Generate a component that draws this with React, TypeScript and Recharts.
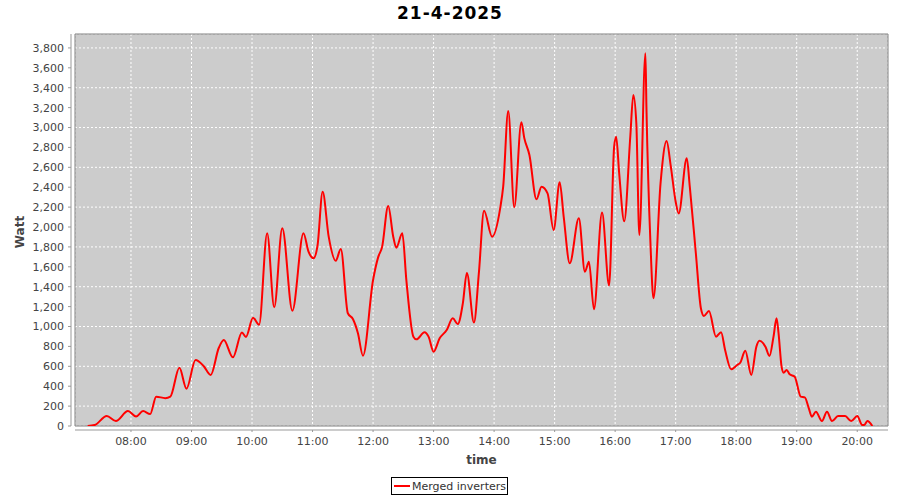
import React from 'react'
import { LineChart, Line, XAxis, YAxis, CartesianGrid, ReferenceArea, Legend } from 'recharts'

const times = [
  '07:17', '07:24', '07:36', '07:45', '07:57', '08:05', '08:12', '08:19', '08:25', '08:34',
  '08:39', '08:48', '08:55', '09:04', '09:12', '09:19', '09:27', '09:32', '09:41', '09:50',
  '09:54', '10:01', '10:07', '10:15', '10:22', '10:30', '10:40', '10:51', '10:56', '11:01',
  '11:05', '11:10', '11:16', '11:23', '11:28', '11:35', '11:40', '11:45', '11:50', '12:00',
  '12:05', '12:09', '12:15', '12:20', '12:23', '12:29', '12:33', '12:40', '12:43', '12:51',
  '12:55', '13:00', '13:06', '13:13', '13:19', '13:24', '13:29', '13:33', '13:40', '13:45',
  '13:50', '13:58', '14:06', '14:09', '14:14', '14:20', '14:27', '14:30', '14:35', '14:42',
  '14:47', '14:53', '14:59', '15:05', '15:09', '15:15', '15:24', '15:30', '15:34', '15:39',
  '15:47', '15:54', '15:59', '16:01', '16:04', '16:09', '16:15', '16:18', '16:21', '16:24',
  '16:30', '16:31', '16:35', '16:38', '16:45', '16:51', '16:55', '17:00', '17:03', '17:11',
  '17:14', '17:20', '17:25', '17:28', '17:33', '17:40', '17:45', '17:49', '17:55', '18:01',
  '18:04', '18:09', '18:15', '18:20', '18:23', '18:29', '18:33', '18:37', '18:40', '18:42',
  '18:45', '18:47', '18:50', '18:53', '18:58', '19:04', '19:08', '19:12', '19:15', '19:19',
  '19:25', '19:30', '19:35', '19:41', '19:48', '19:54', '20:00', '20:05', '20:07', '20:10',
  '20:15',
]

const watts = [
  0, 10, 100, 50, 150, 95, 150, 120, 295, 280,
  295, 585, 375, 663, 603, 513, 784, 864, 690, 940,
  895, 1088, 1018, 1937, 1193, 1987, 1159, 1937, 1752, 1686,
  1819, 2355, 1903, 1661, 1779, 1133, 1075, 932, 707, 1467,
  1695, 1802, 2211, 1903, 1792, 1937, 1467, 898, 871, 942,
  898, 747, 881, 965, 1082, 1025, 1233, 1538, 1040, 1551,
  2164, 1903, 2188, 2405, 3166, 2198, 3052, 2891, 2724, 2278,
  2405, 2338, 1970, 2449, 2103, 1635, 2087, 1551, 1651, 1173,
  2145, 1412, 2807, 2907, 2540, 2057, 2907, 3327, 3042, 1920,
  3746, 3209, 1836, 1283, 2439, 2864, 2623, 2254, 2137, 2690,
  2405, 1736, 1183, 1106, 1156, 898, 942, 764, 570, 613,
  636, 757, 513, 797, 857, 797, 704, 898, 1082, 932,
  596, 536, 563, 520, 496, 295, 288, 178, 94, 144,
  50, 144, 50, 100, 100, 50, 100, 10, 10, 50,
  0,
]

const hourTicks = ['08:00', '09:00', '10:00', '11:00', '12:00', '13:00', '14:00', '15:00', '16:00', '17:00', '18:00', '19:00', '20:00']
const wattTicks = [0, 200, 400, 600, 800, 1000, 1200, 1400, 1600, 1800, 2000, 2200, 2400, 2600, 2800, 3000, 3200, 3400, 3600, 3800]

const toMinutes = (s: string) => {
  const [h, m] = s.split(':').map(Number)
  return h * 60 + m
}

const fmtTime = (v: number) => {
  const h = Math.floor(v / 60)
  const m = Math.round(v - h * 60)
  return `${String(h).padStart(2, '0')}:${String(m).padStart(2, '0')}`
}

const fmtWatt = (v: number) => v.toLocaleString('en-US')

const data = times.map((t, i) => ({ t: toMinutes(t), watt: watts[i] }))

const xDomain = [424.5, 1230.5]
const yMax = 3940
const font = '"DejaVu Sans", Verdana, sans-serif'

const LegendBox = () => (
  <div
    style={{
      border: '1px solid #000',
      height: 16,
      width: 115,
      display: 'flex',
      alignItems: 'center',
      fontFamily: font,
      fontSize: 11,
      color: '#333',
      background: '#fff',
    }}
  >
    <span style={{ display: 'inline-block', width: 16, height: 2, background: '#ff0000', marginLeft: 2, marginRight: 2 }} />
    <span>Merged inverters</span>
  </div>
)

export default function App() {
  return (
    <div style={{ position: 'relative', width: 900, height: 500, background: '#fff' }}>
      <style>{'body{margin:0}'}</style>
      <div
        style={{
          position: 'absolute',
          top: 0,
          left: 0,
          width: 900,
          textAlign: 'center',
          fontFamily: font,
          fontWeight: 'bold',
          fontSize: 17,
          letterSpacing: 1,
          lineHeight: '26px',
          color: '#000',
        }}
      >
        21-4-2025
      </div>
      <LineChart width={900} height={500} data={data} margin={{ top: 34, right: 12, left: 0, bottom: 44 }}>
        <CartesianGrid fill="#cccccc" stroke="#ffffff" strokeDasharray="2 2" />
        <ReferenceArea x1={xDomain[0]} x2={xDomain[1]} y1={0} y2={yMax} fill="none" stroke="#808080" strokeWidth={1} />
        <XAxis
          dataKey="t"
          type="number"
          domain={xDomain}
          ticks={hourTicks.map(toMinutes)}
          tickFormatter={fmtTime}
          allowDataOverflow
          height={30}
          tickSize={2}
          tickMargin={9}
          axisLine={{ stroke: '#999', transform: 'translate(0,4)' }}
          tickLine={{ stroke: '#999', transform: 'translate(0,4)' }}
          tick={{ fill: '#444', fontSize: 11, fontFamily: font }}
          label={{
            content: ({ viewBox }: any) => (
              <text
                x={viewBox.x + viewBox.width / 2}
                y={viewBox.y + 38}
                textAnchor="middle"
                fill="#444"
                fontFamily={font}
                fontSize={12}
                fontWeight="bold"
              >
                time
              </text>
            ),
          }}
        />
        <YAxis
          type="number"
          domain={[0, yMax]}
          ticks={wattTicks}
          tickFormatter={fmtWatt}
          allowDataOverflow
          width={75}
          tickSize={3}
          tickMargin={8}
          axisLine={{ stroke: '#999', transform: 'translate(-4,0)' }}
          tickLine={{ stroke: '#999', transform: 'translate(-4,0)' }}
          tick={{ fill: '#444', fontSize: 11, fontFamily: font }}
          label={{
            content: ({ viewBox }: any) => {
              const cx = 23.5
              const cy = viewBox.y + viewBox.height / 2 + 2
              return (
                <text
                  x={cx}
                  y={cy}
                  transform={`rotate(-90, ${cx}, ${cy})`}
                  textAnchor="middle"
                  fill="#444"
                  fontFamily={font}
                  fontSize={12}
                  fontWeight="bold"
                >
                  Watt
                </text>
              )
            },
          }}
        />
        <Legend
          layout="vertical"
          align="center"
          verticalAlign="middle"
          content={() => <LegendBox />}
          wrapperStyle={{ top: 477, left: 391, width: 'auto', height: 'auto' }}
        />
        <Line
          type="monotone"
          dataKey="watt"
          name="Merged inverters"
          stroke="#ff0000"
          strokeWidth={2}
          dot={false}
          isAnimationActive={false}
        />
      </LineChart>
    </div>
  )
}
